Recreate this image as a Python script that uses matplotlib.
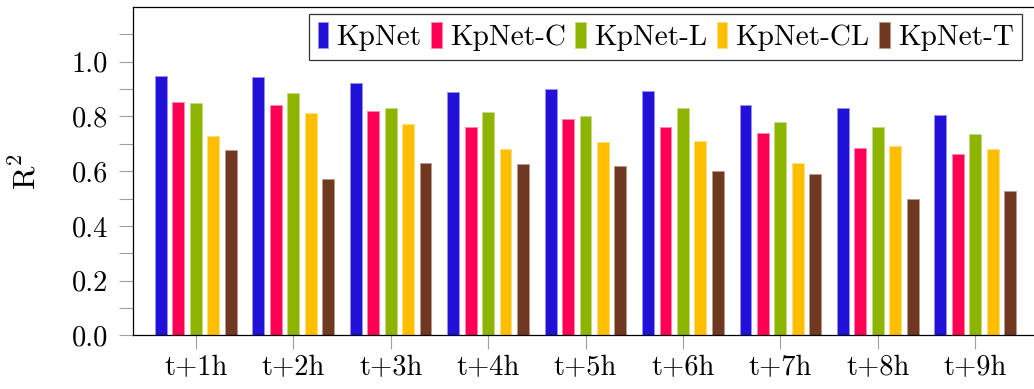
import numpy as np
import matplotlib
matplotlib.use("Agg")
import matplotlib.pyplot as plt

plt.rcParams["font.family"] = "cmr10"
plt.rcParams["mathtext.fontset"] = "cm"
plt.rcParams["axes.formatter.use_mathtext"] = True

# horizons and model scores (R^2)
horizons = ["t+1h", "t+2h", "t+3h", "t+4h", "t+5h", "t+6h", "t+7h", "t+8h", "t+9h"]
models = ["KpNet", "KpNet-C", "KpNet-L", "KpNet-CL", "KpNet-T"]
kpnet    = [0.948, 0.945, 0.921, 0.888, 0.901, 0.892, 0.841, 0.832, 0.805]
kpnet_c  = [0.851, 0.841, 0.819, 0.762, 0.789, 0.762, 0.738, 0.686, 0.661]
kpnet_l  = [0.848, 0.884, 0.830, 0.815, 0.801, 0.831, 0.778, 0.761, 0.737]
kpnet_cl = [0.730, 0.811, 0.771, 0.681, 0.705, 0.710, 0.631, 0.692, 0.682]
kpnet_t  = [0.676, 0.570, 0.629, 0.626, 0.619, 0.599, 0.588, 0.497, 0.529]
series = [kpnet, kpnet_c, kpnet_l, kpnet_cl, kpnet_t]

colors = ["#2010d8", "#ff0055", "#8cb400", "#ffbf00", "#703820"]
edges = ["#9a92ee", "#ff88aa", "#c6da80", "#ffdf80", "#b89c90"]

fig = plt.figure(figsize=(10.34, 3.89), dpi=100)
W, H = 1034, 389
ax = fig.add_axes((133 / W, 1 - 335.3 / H, (1038 - 133) / W, (335.3 - 7) / H))

x = np.arange(len(horizons))
step = 0.179
width = 0.123
for i, (vals, name) in enumerate(zip(series, models)):
    ax.bar(x + (i - 2) * step, vals, width, color=colors[i], edgecolor=edges[i],
           linewidth=0.6, label=name, zorder=2)

ax.set_xlim(-0.644, 8.644)
ax.set_ylim(0, 1.2)
ax.set_xticks(x)
ax.set_xticklabels(horizons)
ax.set_yticks(np.arange(0, 1.01, 0.2))
ax.set_yticklabels(["0.0", "0.2", "0.4", "0.6", "0.8", "1.0"])
ax.set_yticks(np.arange(0.1, 1.2, 0.2), minor=True)

fs = 20.5
ax.tick_params(axis="y", which="both", direction="out", length=10, width=0.8,
               color="#a0a0a0", labelsize=fs, pad=8)
ax.tick_params(axis="x", which="both", direction="out", length=10, width=0.8,
               color="#a0a0a0", labelsize=fs, pad=4)
for s in ax.spines.values():
    s.set_linewidth(0.9)
    s.set_color("black")

ax.set_ylabel(r"$\mathrm{R}^2$", fontsize=23)
ax.yaxis.set_label_coords((41 - 133) / (1038 - 133), 0.5)

leg = ax.legend(loc="upper right", bbox_to_anchor=(1022 / W, 1 - 14 / H),
                bbox_transform=fig.transFigure, borderaxespad=0, ncol=5,
                fontsize=21.0, frameon=True, fancybox=False, edgecolor="black",
                handlelength=0.37, handleheight=0.95, handletextpad=0.27,
                columnspacing=0.33, borderpad=0.29)
leg.get_frame().set_linewidth(0.9)

fig.savefig("out.png", dpi=100)
